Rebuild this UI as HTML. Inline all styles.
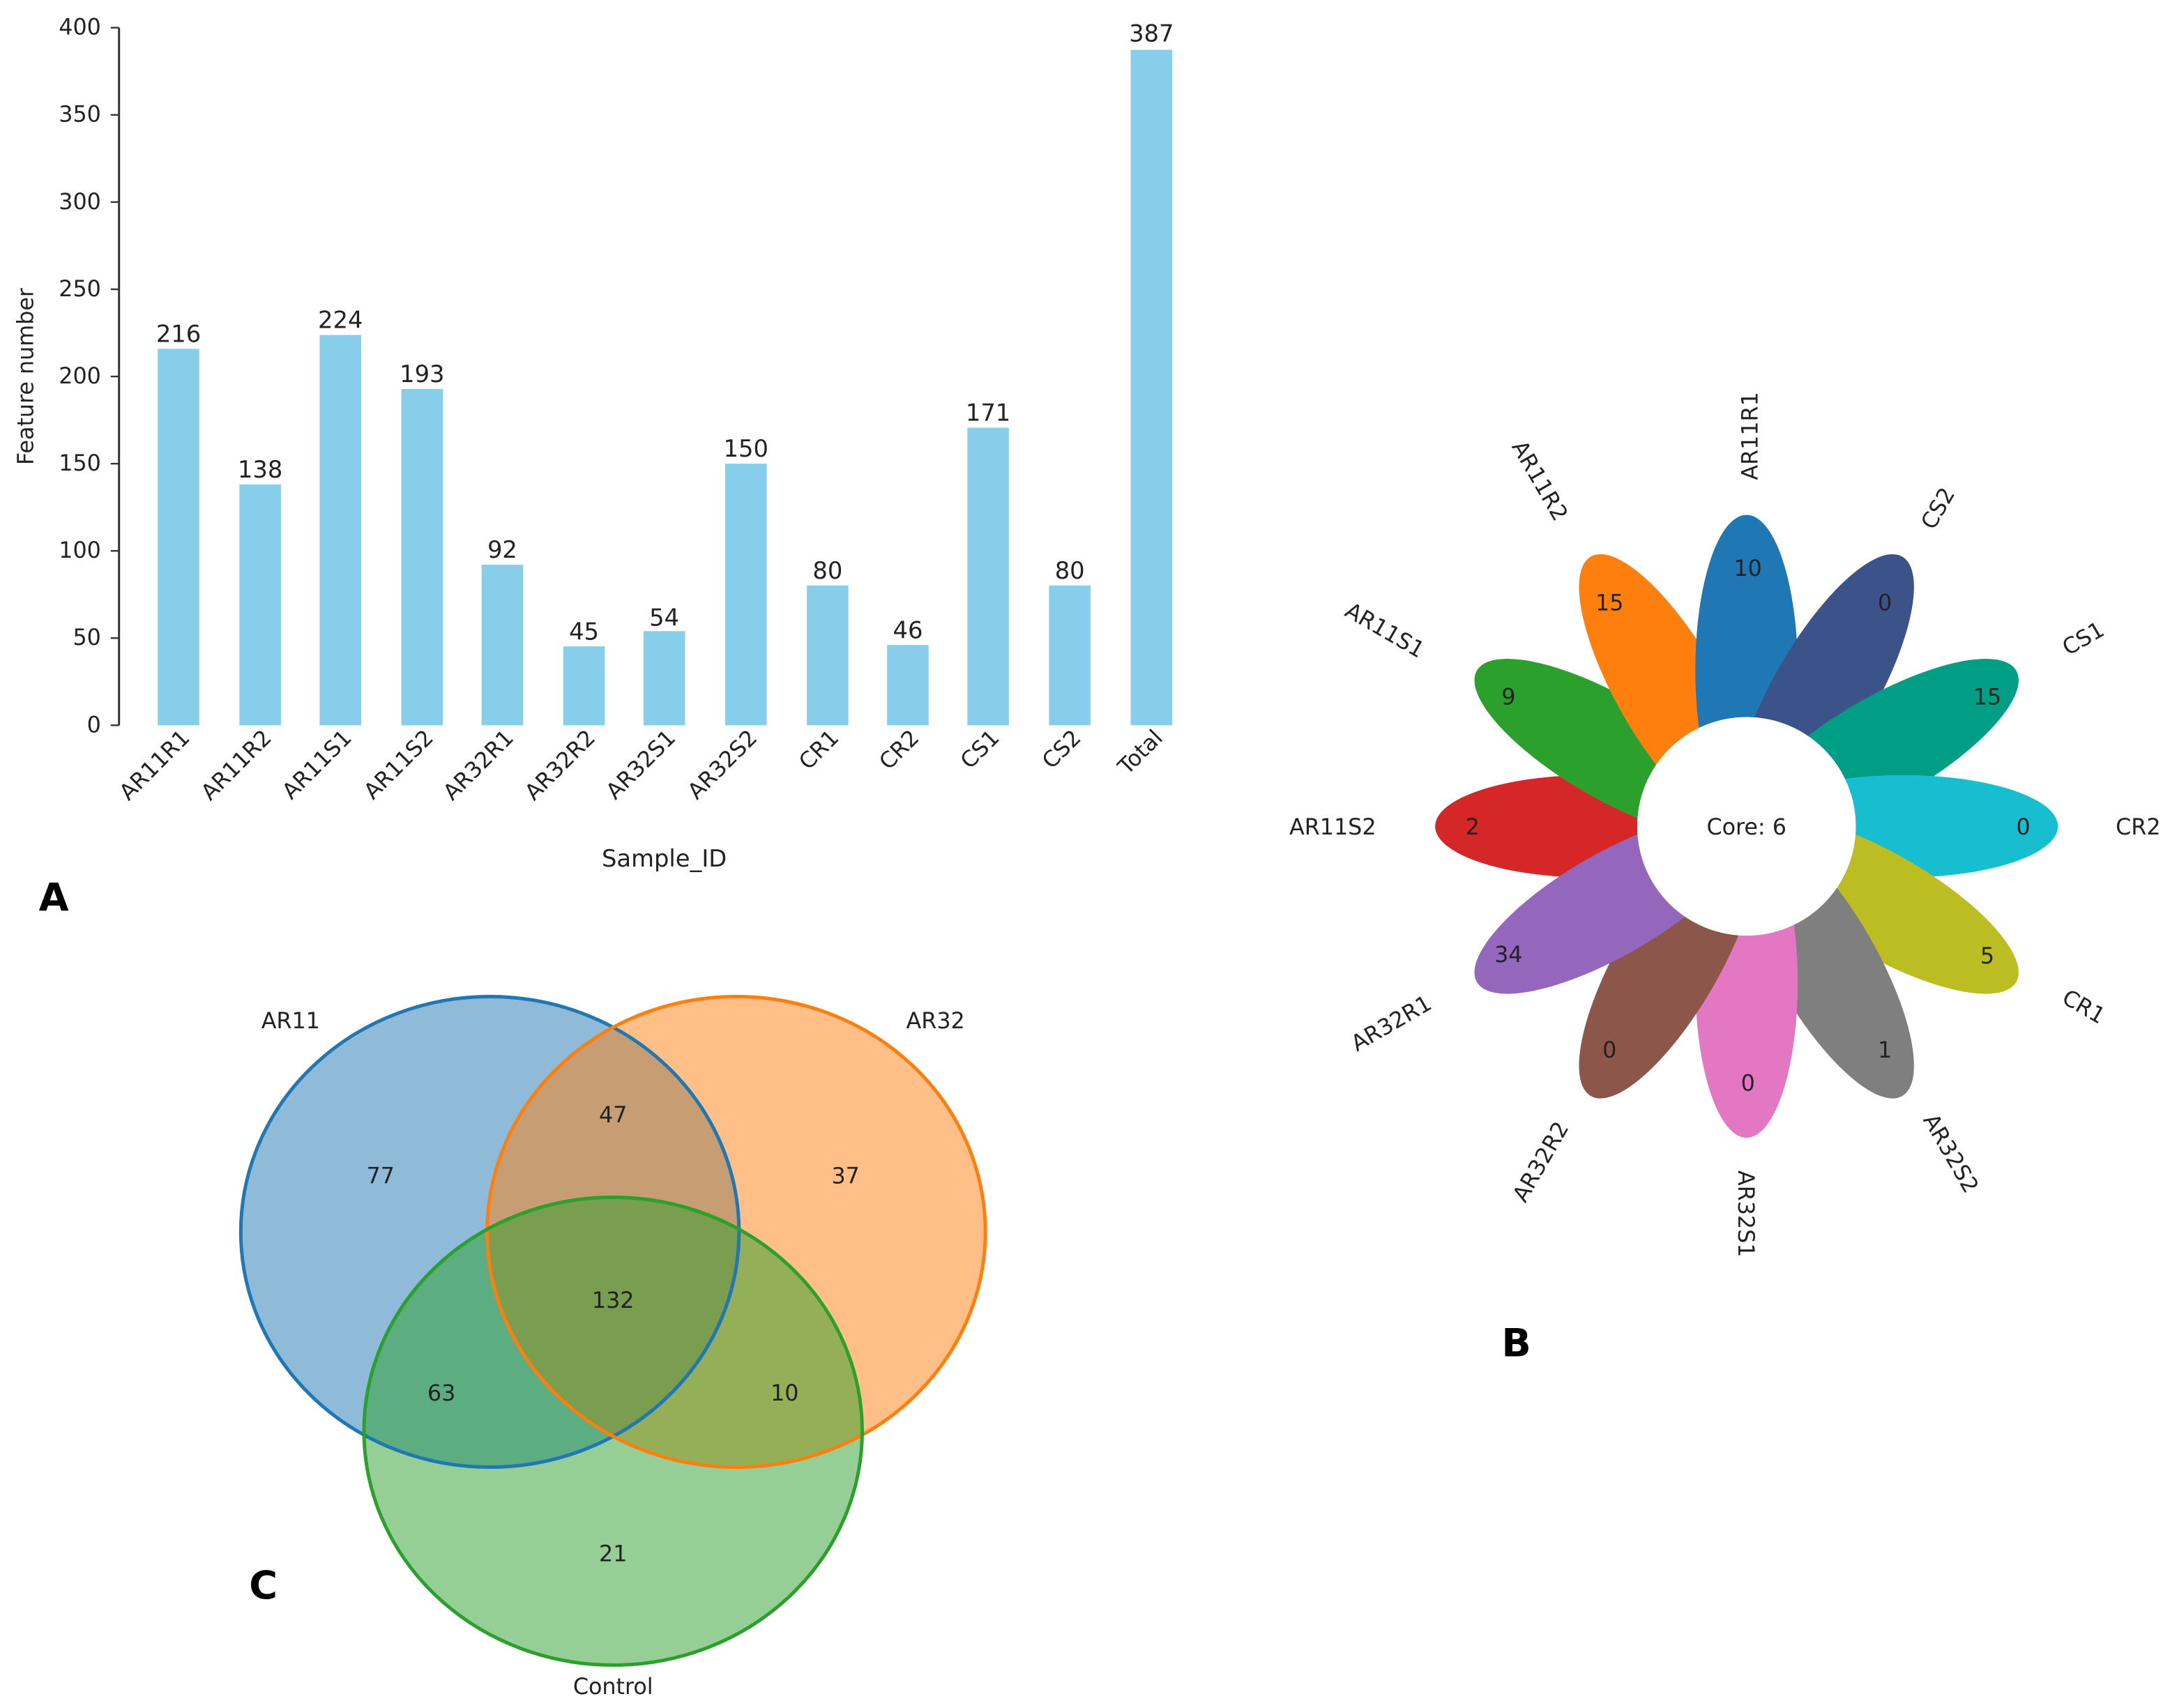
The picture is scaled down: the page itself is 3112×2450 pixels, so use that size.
<!DOCTYPE html>
<html><head><meta charset="utf-8"><style>
html,body{margin:0;padding:0;background:#fff;}
svg{display:block;}
text{font-family:"DejaVu Sans","Liberation Sans",sans-serif;}
</style></head><body>
<svg width="3112" height="2450" viewBox="0 0 1568 1234" preserveAspectRatio="none" xmlns="http://www.w3.org/2000/svg">
<rect width="1568" height="1234" fill="#fff"/>
<g font-size="16" fill="#222">
<line x1="86" y1="20" x2="86" y2="524" stroke="#333" stroke-width="1.5"/>
<g text-anchor="end">
<text x="73" y="529">0</text><text x="73" y="466">50</text><text x="73" y="403">100</text>
<text x="73" y="340">150</text><text x="73" y="277">200</text><text x="73" y="214">250</text>
<text x="73" y="151">300</text><text x="73" y="88">350</text><text x="73" y="25">400</text>
</g>
<g stroke="#333" stroke-width="1.2">
<line x1="80" y1="524" x2="86" y2="524"/><line x1="80" y1="461" x2="86" y2="461"/><line x1="80" y1="398" x2="86" y2="398"/>
<line x1="80" y1="335" x2="86" y2="335"/><line x1="80" y1="272" x2="86" y2="272"/><line x1="80" y1="209" x2="86" y2="209"/>
<line x1="80" y1="146" x2="86" y2="146"/><line x1="80" y1="83" x2="86" y2="83"/><line x1="80" y1="20" x2="86" y2="20"/>
</g>
<text transform="translate(24,272) rotate(-90)" text-anchor="middle" font-size="16">Feature number</text>
<g fill="#87ceeb">
<rect x="114" y="252" width="30" height="272"/>
<rect x="173" y="350" width="30" height="174"/>
<rect x="231" y="242" width="30" height="282"/>
<rect x="290" y="281" width="30" height="243"/>
<rect x="348" y="408" width="30" height="116"/>
<rect x="407" y="467" width="30" height="57"/>
<rect x="465" y="456" width="30" height="68"/>
<rect x="524" y="335" width="30" height="189"/>
<rect x="583" y="423" width="30" height="101"/>
<rect x="641" y="466" width="30" height="58"/>
<rect x="699" y="309" width="30" height="215"/>
<rect x="758" y="423" width="30" height="101"/>
<rect x="817" y="36" width="30" height="488"/>
</g>
<g text-anchor="middle" font-size="17">
<text x="129" y="247">216</text><text x="188" y="345">138</text><text x="246" y="237">224</text>
<text x="305" y="276">193</text><text x="363" y="403">92</text><text x="422" y="462">45</text>
<text x="480" y="452">54</text><text x="539" y="330">150</text><text x="598" y="418">80</text>
<text x="656" y="461">46</text><text x="714" y="304">171</text><text x="773" y="418">80</text>
<text x="832" y="30">387</text>
</g>
<g text-anchor="end" font-size="16">
<text transform="translate(138,534) rotate(-45)">AR11R1</text>
<text transform="translate(197,534) rotate(-45)">AR11R2</text>
<text transform="translate(255,534) rotate(-45)">AR11S1</text>
<text transform="translate(314,534) rotate(-45)">AR11S2</text>
<text transform="translate(372,534) rotate(-45)">AR32R1</text>
<text transform="translate(431,534) rotate(-45)">AR32R2</text>
<text transform="translate(489,534) rotate(-45)">AR32S1</text>
<text transform="translate(548,534) rotate(-45)">AR32S2</text>
<text transform="translate(607,534) rotate(-45)">CR1</text>
<text transform="translate(665,534) rotate(-45)">CR2</text>
<text transform="translate(723,534) rotate(-45)">CS1</text>
<text transform="translate(782,534) rotate(-45)">CS2</text>
<text transform="translate(841,534) rotate(-45)">Total</text>
</g>
<text x="480" y="626" text-anchor="middle" font-size="17">Sample_ID</text>
</g>
<text x="28" y="658" font-size="28" font-weight="bold" font-family="Liberation Sans,sans-serif">A</text>

<g transform="translate(1262,597)">
<ellipse cx="113" cy="0" rx="112" ry="37" fill="#d62728" transform="rotate(180)"/>
<ellipse cx="113" cy="0" rx="112" ry="37" fill="#2ca02c" transform="rotate(210)"/>
<ellipse cx="113" cy="0" rx="112" ry="37" fill="#ff7f0e" transform="rotate(240)"/>
<ellipse cx="113" cy="0" rx="112" ry="37" fill="#1f77b4" transform="rotate(270)"/>
<ellipse cx="113" cy="0" rx="112" ry="37" fill="#3b5388" transform="rotate(300)"/>
<ellipse cx="113" cy="0" rx="112" ry="37" fill="#009e84" transform="rotate(330)"/>
<ellipse cx="113" cy="0" rx="112" ry="37" fill="#17becf" transform="rotate(0)"/>
<ellipse cx="113" cy="0" rx="112" ry="37" fill="#bcbd22" transform="rotate(30)"/>
<ellipse cx="113" cy="0" rx="112" ry="37" fill="#7f7f7f" transform="rotate(60)"/>
<ellipse cx="113" cy="0" rx="112" ry="37" fill="#e377c2" transform="rotate(90)"/>
<ellipse cx="113" cy="0" rx="112" ry="37" fill="#8c564b" transform="rotate(120)"/>
<ellipse cx="113" cy="0" rx="112" ry="37" fill="#9467bd" transform="rotate(150)"/>
<circle cx="0" cy="0" r="79" fill="#fff"/>
<text x="0" y="6" text-anchor="middle" font-size="16" fill="#222">Core: 6</text>
</g>
<g font-size="16" fill="#222" text-anchor="middle">
<text x="1263" y="416">10</text><text x="1362" y="441">0</text><text x="1436" y="509">15</text>
<text x="1462" y="603">0</text><text x="1436" y="696">5</text><text x="1362" y="764">1</text>
<text x="1263" y="788">0</text><text x="1163" y="764">0</text><text x="1090" y="695">34</text>
<text x="1064" y="603">2</text><text x="1090" y="509">9</text><text x="1163" y="441">15</text>
</g>
<g font-size="16" fill="#222" text-anchor="middle">
<text transform="translate(1270,315) rotate(-90)">AR11R1</text>
<text transform="translate(1405,370) rotate(-60)">CS2</text>
<text transform="translate(1508,466) rotate(-30)">CS1</text>
<text transform="translate(1545,603)">CR2</text>
<text transform="translate(1503,732) rotate(30)">CR1</text>
<text transform="translate(1405,836) rotate(60)">AR32S2</text>
<text transform="translate(1256,877) rotate(90)">AR32S1</text>
<text transform="translate(1118,842) rotate(-60)">AR32R2</text>
<text transform="translate(1008,744) rotate(-30)">AR32R1</text>
<text transform="translate(963,603)">AR11S2</text>
<text transform="translate(998,460) rotate(30)">AR11S1</text>
<text transform="translate(1108,350) rotate(60)">AR11R2</text>
</g>
<text x="1085" y="980" font-size="28" font-weight="bold" font-family="Liberation Sans,sans-serif">B</text>

<ellipse cx="354" cy="890" rx="180" ry="170" fill="#1f77b4" fill-opacity="0.5"/>
<ellipse cx="532" cy="890" rx="180" ry="170" fill="#ff7f0e" fill-opacity="0.5"/>
<ellipse cx="443" cy="1034" rx="180" ry="169" fill="#2ca02c" fill-opacity="0.5"/>
<ellipse cx="354" cy="890" rx="180" ry="170" fill="none" stroke="#1f77b4" stroke-width="2.5"/>
<ellipse cx="532" cy="890" rx="180" ry="170" fill="none" stroke="#ff7f0e" stroke-width="2.5"/>
<ellipse cx="443" cy="1034" rx="180" ry="169" fill="none" stroke="#2ca02c" stroke-width="2.5"/>
<g font-size="16" fill="#222" text-anchor="middle">
<text x="275" y="855">77</text><text x="443" y="811">47</text><text x="611" y="855">37</text>
<text x="443" y="945">132</text><text x="319" y="1012">63</text><text x="567" y="1012">10</text>
<text x="443" y="1128">21</text>
<text x="210" y="743">AR11</text><text x="676" y="743">AR32</text><text x="443" y="1224">Control</text>
</g>
<text x="180" y="1155" font-size="28" font-weight="bold" font-family="Liberation Sans,sans-serif">C</text>
</svg>
</body></html>
